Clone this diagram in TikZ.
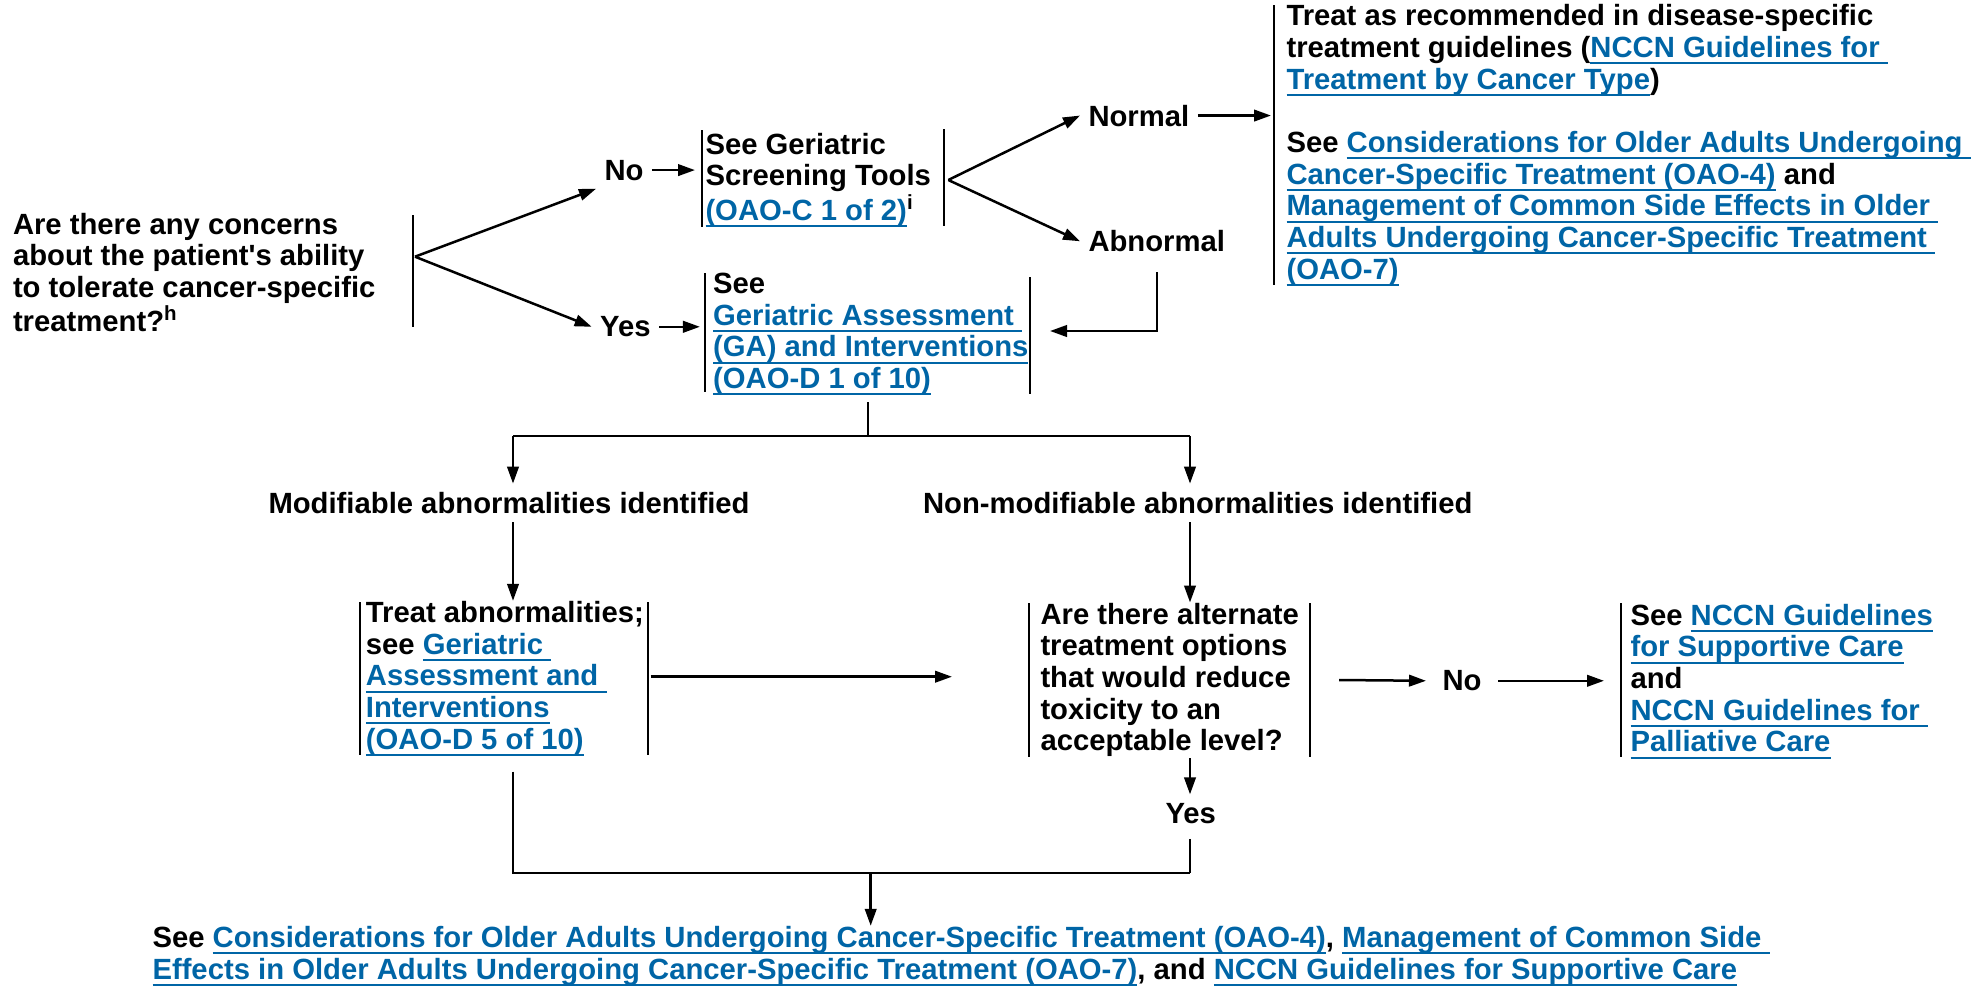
\documentclass[tikz,border=0pt]{standalone}
\usepackage{fontspec}
\setmainfont{Liberation Sans}
\usetikzlibrary{arrows.meta}
\definecolor{nccnblue}{RGB}{0,101,166}
\newcommand{\lk}[1]{{\color{nccnblue}\setbox0=\hbox{#1}\rlap{\rule[-2.7pt]{\wd0}{0.8pt}}\box0}}

\begin{document}
\begin{tikzpicture}[
        x=0.4pt, y=-0.4pt,
        font=\fontsize{11.7pt}{12.67pt}\selectfont\bfseries,
        txt/.style={anchor=north west, align=left, inner sep=0pt,
          execute at begin node=\rule{0pt}{9pt}},
        lbl/.style={anchor=base west, inner sep=3.2pt},
        bar/.style={line width=0.8pt},
        ln/.style={line width=1pt},
        arr/.style={line width=1pt, -{Triangle[length=6.8pt,width=4.6pt]}},
      ]
      \useasboundingbox (0,0) rectangle (1988,988);
      % branch and junction points
      \coordinate (v0) at (415,256.7);
      \coordinate (v1) at (948.3,180);
      \coordinate (gain) at (1050,331);
      \coordinate (gab) at (868,402);
      \coordinate (j0) at (868,436);
      \coordinate (jl) at (513,436);
      \coordinate (jr) at (1190,436);
      \coordinate (trtout) at (650.5,676.7);
      \coordinate (altin) at (952,676.7);
      \coordinate (altout) at (1339,680);
      \coordinate (altb) at (1190,758);
      \coordinate (trtb) at (513,771.7);
      \coordinate (m1) at (1190,873);
      \coordinate (m0) at (870.7,873);
      % texts
      \node[txt] (q) at (12.5,212.5) {Are there any concerns\\about the patient\textquotesingle s ability\\to tolerate cancer-specific\\treatment?\textsuperscript{h}};
      \node[lbl] (no1) at (596,180) {No};
      \node[lbl] (yes1) at (591.7,336.7) {Yes};
      \node[txt] (scr) at (705,132.5) {See Geriatric\\Screening Tools\\\lk{(OAO-C 1 of 2)}\textsuperscript{i}};
      \node[txt] (ga) at (712.7,272.5) {See\\\lk{Geriatric Assessment }\\\lk{(GA) and Interventions}\\\lk{(OAO-D 1 of 10)}};
      \node[lbl] (nrm) at (1080,126) {Normal};
      \node[lbl] (abn) at (1080,251.7) {Abnormal};
      \node[txt] (tr) at (1286,4.2) {Treat as recommended in disease-specific\\
        treatment guidelines (\lk{NCCN Guidelines for }\\
        \lk{Treatment by Cancer Type})\\[12.67pt]
        See \lk{Considerations for Older Adults Undergoing }\\
        \lk{Cancer-Specific Treatment (OAO-4)} and\\
        \lk{Management of Common Side Effects in Older }\\
        \lk{Adults Undergoing Cancer-Specific Treatment }\\
        \lk{(OAO-7)}};
      \node[lbl] (mod) at (260,513.3) {Modifiable abnormalities identified};
      \node[lbl] (nmod) at (914.6,513.3) {Non-modifiable abnormalities identified};
      \node[txt] (trt) at (365.4,600.8) {Treat abnormalities;\\see \lk{Geriatric }\\\lk{Assessment and }\\\lk{Interventions}\\\lk{(OAO-D 5 of 10)}};
      \node[txt] (alt) at (1040,602.5) {Are there alternate\\treatment options\\that would reduce\\toxicity to an\\acceptable level?};
      \node[lbl, inner xsep=6.4pt] (no2) at (1426,690.7) {No};
      \node[txt] (sup) at (1630,603.5) {See \lk{NCCN Guidelines}\\\lk{for Supportive Care}\\and\\\lk{NCCN Guidelines for }\\\lk{Palliative Care}};
      \node[lbl] (yes2) at (1157,823) {Yes};
      \node[txt] (bot) at (152,925.8) {See \lk{Considerations for Older Adults Undergoing Cancer-Specific Treatment (OAO-4)}, \lk{Management of Common Side }\\
        \lk{Effects in Older Adults Undergoing Cancer-Specific Treatment (OAO-7)}, and \lk{NCCN Guidelines for Supportive Care}};
      % side bars
      \draw[bar] (413,215) -- (413,327);
      \draw[bar] (702,130) -- (702,227) (944,129) -- (944,226);
      \draw[bar] (704.5,273) -- (704.5,392) (1029.5,277) -- (1029.5,394);
      \draw[bar] (1274.4,5) -- (1274.4,285);
      \draw[bar] (360,602) -- (360,755) (648,602) -- (648,755);
      \draw[bar] (1029,603) -- (1029,757) (1310,603) -- (1310,757);
      \draw[bar] (1621,603) -- (1621,757);
      % connectors
      \draw[arr] (v0) -- (no1.south west);
      \draw[arr] (v0) -- (yes1.west);
      \draw[arr, shorten >=4pt] (no1.east) -- (no1.east -| scr.west);
      \draw[arr, shorten >=5.1pt] (yes1.east) -- (yes1.east -| ga.west);
      \draw[arr] (v1) -- (nrm.west);
      \draw[arr] (v1) -- (abn.west);
      \draw[arr, shorten >=6pt] (nrm.east) -- (nrm.east -| tr.west);
      \draw[arr, shorten <=4.8pt] (abn.south) |- (gain);
      \draw[ln] (gab) -- (j0);
      \draw[ln] (jl) -- (jr);
      \draw[arr] (jl) -- (jl |- mod.north);
      \draw[arr] (jr) -- (jr |- nmod.north);
      \draw[arr] (jl |- mod.south) -- (jl |- trt.north);
      \draw[arr] (jr |- nmod.south) -- (jr |- alt.north);
      \draw[arr] (trtout) -- (altin);
      \draw[arr] (altout) -- (no2.west);
      \draw[arr, shorten >=10.4pt] (no2.east) -- (no2.east -| sup.west);
      \draw[arr] (altb) -- (altb |- yes2.north);
      \draw[ln, shorten <=2.8pt] (altb |- yes2.south) -- (m1);
      \draw[ln] (trtb) |- (m1);
      \draw[arr] (m0) -- (m0 |- bot.north);
    \end{tikzpicture}
\end{document}
